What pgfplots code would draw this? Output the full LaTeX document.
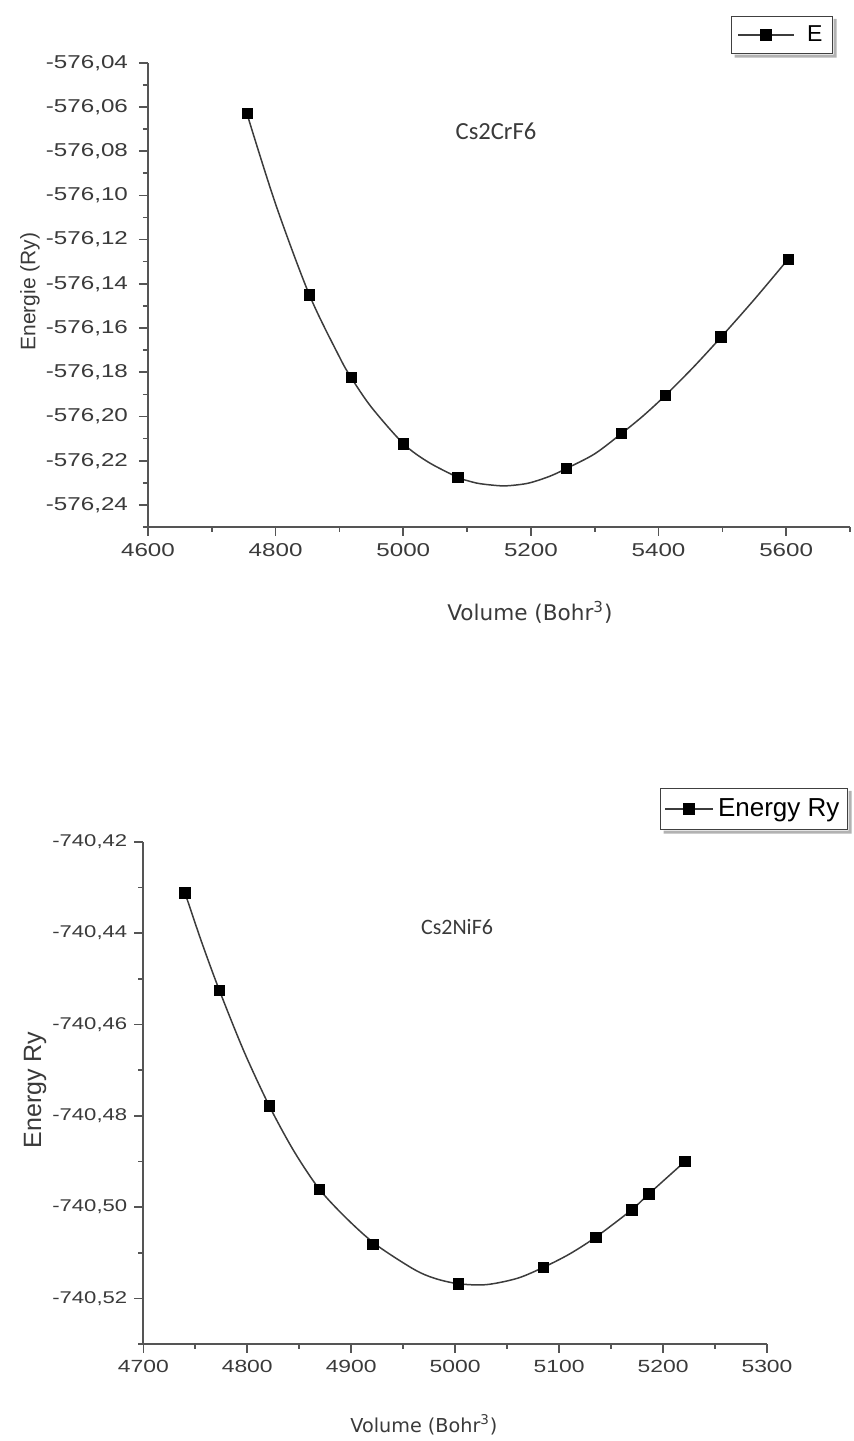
\documentclass[border=0pt]{standalone}
\usepackage{pgfplots}
\pgfplotsset{compat=1.18}
\usepackage{fontspec}
\setmainfont{Liberation Sans}
\newfontfamily\tickfont{Liberation Sans}[FakeStretch=1.3]
\newfontfamily\volfont{DejaVu Sans}
\newfontfamily\calfont{Carlito}
\definecolor{axgray}{HTML}{555555}
\definecolor{txtgray}{HTML}{3A3A3A}
\definecolor{curvegray}{HTML}{3C3C3C}

\pgfplotsset{
  myaxis/.style={
    scale only axis,
    anchor=south west,
    axis x line*=bottom,
    axis y line*=left,
    axis line style={-, line width=1pt, axgray},
    every tick/.style={axgray, line width=0.8pt},
    tick align=outside,
    major tick length=4.5pt,
    minor tick length=2.5pt,
    tick pos=left,
    /pgf/number format/assume math mode=true,
    xticklabel style={text=txtgray, /pgf/number format/1000 sep={}, /pgf/number format/fixed},
    yticklabel style={text=txtgray,
      /pgf/number format/fixed, /pgf/number format/fixed zerofill,
      /pgf/number format/precision=2, /pgf/number format/use comma,
      /pgf/number format/1000 sep={}},
    clip=false,
  }
}

\begin{document}
\begin{tikzpicture}
\useasboundingbox (0,0) rectangle (426.5pt,720.5pt);

% ---------------- Top: Cs2CrF6 ----------------
\begin{axis}[myaxis,
  at={(74pt,457pt)},
  width=351pt, height=232.15pt,
  xmin=4600, xmax=5700,
  ymin=-576.25, ymax=-576.04,
  xtick={4600,4800,...,5600},
  minor xtick={4700,4900,...,5700},
  ytick={-576.24,-576.22,...,-576.04},
  minor ytick={-576.25,-576.23,...,-576.05},
  xticklabel style={font=\tickfont\fontsize{9.3}{10}\selectfont},
  yticklabel style={font=\tickfont\fontsize{9.3}{10}\selectfont, xshift=-2pt},
  xlabel={\volfont\fontsize{10.8}{12}\selectfont Volume (Bohr\textsuperscript{3})},
  ylabel={\fontsize{10.5}{12}\selectfont Energie (Ry)},
  every axis x label/.style={at={(axis description cs:0.544,-0.183)}, anchor=center, text=txtgray},
  every axis y label/.style={at={(axis description cs:-0.168,0.507)}, anchor=center, rotate=90, text=txtgray},
  legend image code/.code={\draw[mark repeat=2,mark phase=2,#1] plot coordinates {(0pt,0pt) (14pt,0pt) (28pt,0pt)};},
  legend style={name=legA, at={(axis description cs:0.9758,1.1006)}, anchor=north east,
    draw=black!75, fill=white, line width=0.6pt,
    font=\fontsize{11.5}{13}\selectfont, inner xsep=3pt, inner ysep=2.5pt},
]
\addplot[curvegray, line width=0.75pt, smooth, tension=0.5, forget plot] coordinates {
(4755,-576.0630) (4800,-576.1040) (4853,-576.1451) (4900,-576.1731)
(4918.3,-576.1824) (4950,-576.1958) (5000.5,-576.2124) (5040,-576.2208)
(5085.9,-576.2276) (5100,-576.2290) (5120,-576.2304) (5155,-576.2314)
(5180,-576.2309) (5200,-576.2299) (5230,-576.2270)
(5256,-576.2235) (5300,-576.2169) (5342,-576.2077) (5376,-576.1997)
(5411,-576.1904) (5455,-576.1776) (5498,-576.1641) (5550,-576.1471)
(5603,-576.1289)};
\addplot[only marks, mark=square*, mark size=2.6pt, black, forget plot] coordinates {
(4755.5,-576.0630) (4852.9,-576.1451) (4918.3,-576.1824) (5000.5,-576.2124)
(5085.9,-576.2276) (5256,-576.2235) (5342,-576.2077) (5411,-576.1904)
(5498,-576.1641) (5603,-576.1289)};
\addlegendimage{curvegray, line width=0.75pt, mark=square*, mark size=2.6pt, mark options={black}}
\addlegendentry{\hspace{4pt}E}
\node[font=\calfont\fontsize{12.3}{14}\selectfont, text=txtgray] at (axis description cs:0.4957,0.853) {Cs2CrF6};
\end{axis}

% ---------------- Bottom: Cs2NiF6 ----------------
\begin{axis}[myaxis,
  at={(71.65pt,48.5pt)},
  width=311.85pt, height=251.15pt,
  xmin=4700, xmax=5300,
  ymin=-740.53, ymax=-740.42,
  xtick={4700,4800,...,5300},
  minor xtick={4750,4850,...,5250},
  ytick={-740.52,-740.50,...,-740.42},
  minor ytick={-740.53,-740.51,...,-740.43},
  xticklabel style={font=\tickfont\fontsize{8.8}{10}\selectfont},
  yticklabel style={font=\tickfont\fontsize{8.5}{10}\selectfont, xshift=0pt},
  xlabel={\volfont\fontsize{9.6}{11}\selectfont Volume (Bohr\textsuperscript{3})},
  ylabel={\fontsize{12.5}{14}\selectfont Energy Ry},
  every axis x label/.style={at={(axis description cs:0.45,-0.161)}, anchor=center, text=txtgray},
  every axis y label/.style={at={(axis description cs:-0.1736,0.5057)}, anchor=center, rotate=90, text=txtgray},
  legend image code/.code={\draw[mark repeat=2,mark phase=2,#1] plot coordinates {(0pt,0pt) (12pt,0pt) (24pt,0pt)};},
  legend style={name=legB, at={(axis description cs:0.8284,1.1069)}, anchor=north west,
    draw=black!75, fill=white, line width=0.6pt,
    font=\fontsize{13}{15}\selectfont, inner xsep=2pt, inner ysep=3pt},
]
\addplot[curvegray, line width=0.75pt, smooth, tension=0.5, forget plot] coordinates {
(4740.1,-740.4312) (4756,-740.4419) (4773.1,-740.4525) (4797,-740.4660)
(4821.3,-740.4779) (4845,-740.4878) (4869.4,-740.4961) (4896,-740.5026)
(4923.6,-740.5082) (4960,-740.5136) (4980,-740.5156) (5003,-740.5168)
(5030,-740.5170) (5060,-740.5156)
(5085,-740.5132) (5110,-740.5103) (5135.3,-740.5066)
(5169.9,-740.5006) (5186.5,-740.4971) (5221.2,-740.4900)};
\addplot[only marks, mark=square*, mark size=2.6pt, black, forget plot] coordinates {
(4740.1,-740.4312) (4773.1,-740.4525) (4821.3,-740.4779) (4869.4,-740.4961)
(4921,-740.5082) (5003,-740.5168) (5085,-740.5132) (5135.3,-740.5066)
(5169.9,-740.5006) (5186.5,-740.4971) (5221.2,-740.4900)};
\addlegendimage{curvegray, line width=0.75pt, mark=square*, mark size=2.6pt, mark options={black}}
\addlegendentry{Energy Ry}
\node[font=\calfont\fontsize{11}{13}\selectfont, text=txtgray] at (axis description cs:0.503,0.830) {Cs2NiF6};
\end{axis}

% legend shadows (right and bottom strips)
\foreach \L in {legA,legB}{
  \fill[black!30] ([xshift=1.8pt,yshift=-0.3pt]\L.south west) -- ([xshift=1.8pt,yshift=-1.8pt]\L.south west)
    -- ([xshift=1.8pt,yshift=-1.8pt]\L.south east) -- ([xshift=1.8pt,yshift=-1.5pt]\L.north east)
    -- ([xshift=0.3pt,yshift=-1.5pt]\L.north east) -- ([xshift=0.3pt,yshift=-0.3pt]\L.south east) -- cycle;
}
\end{tikzpicture}
\end{document}
